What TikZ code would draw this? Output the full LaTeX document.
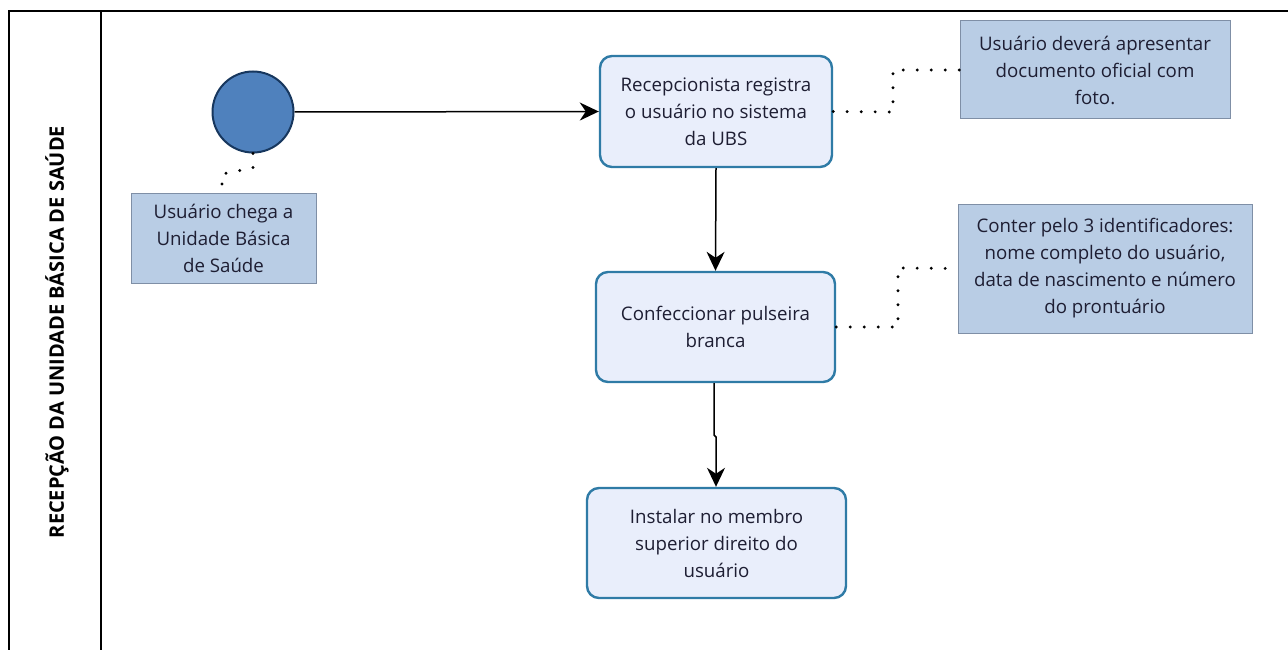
\documentclass[tikz,border=0pt]{standalone}
\usepackage{fontspec}
\setmainfont{Open Sans}
\usetikzlibrary{arrows.meta}
\definecolor{taskfill}{HTML}{E9EEFB}
\definecolor{taskdraw}{HTML}{2F7BA6}
\definecolor{annfill}{HTML}{B9CDE5}
\definecolor{anndraw}{HTML}{7F8FA6}
\definecolor{evfill}{HTML}{4F81BD}
\definecolor{evdraw}{HTML}{17375E}
\definecolor{txt}{HTML}{1E1E33}
\tikzset{
  task/.style={draw=taskdraw, fill=taskfill, line width=2.4pt, rounded corners=12pt,
    text=txt, align=center, font=\fontsize{18.7}{27}\selectfont, inner sep=0pt},
  ann/.style={draw=anndraw, fill=annfill, line width=1pt, text=txt, align=center,
    font=\fontsize{18.7}{27}\selectfont, inner sep=0pt},
  flow/.style={draw=black, line width=1.5pt, -{Stealth[length=19pt,width=18pt,inset=6pt]}},
  assoc/.style={draw=black, line width=3.2pt, dash pattern=on 0pt off 14pt, line cap=round},
  pool/.style={draw=black, line width=1.6pt}
}
\begin{document}
\begin{tikzpicture}[x=1pt,y=-1pt]
\useasboundingbox (0,0) rectangle (1288,650);
% pool
\draw[pool] (9,650) -- (9,11) -- (1288,11);
\draw[pool] (101,11) -- (101,650);
\node[rotate=90, font=\bfseries\fontsize{20}{22}\selectfont, text=black] (lbl) at (57,332) {RECEPÇÃO DA UNIDADE BÁSICA DE SAÚDE};
% start event
\node[circle, draw=evdraw, fill=evfill, line width=2pt, minimum size=81pt, inner sep=0pt] (start) at (253,112) {};
% annotations
\node[ann, minimum width=185pt, minimum height=90pt] (a1) at (223.5,238) {Usuário chega a\\Unidade Básica\\de Saúde};
\node[ann, minimum width=270pt, minimum height=98pt] (a2) at (1095,70) {Usuário deverá apresentar\\documento oficial com\\foto.};
\node[ann, minimum width=294pt, minimum height=129pt] (a3) at (1105,268.5) {Conter pelo 3 identificadores:\\nome completo do usuário,\\data de nascimento e número\\do prontuário};
% tasks
\node[task, minimum width=232pt, minimum height=111pt] (t1) at (716,111.5) {Recepcionista registra\\o usuário no sistema\\da UBS};
\node[task, minimum width=239pt, minimum height=110pt] (t2) at (715.5,327) {Confeccionar pulseira\\branca};
\node[task, minimum width=259pt, minimum height=110pt] (t3) at (716.5,543) {Instalar no membro\\superior direito do\\usuário};
% flows
\draw[flow] (start.east) -- (t1.west);
\draw[flow] (t1.south) -- (t2.north);
\coordinate (j1) at (714,435);
\coordinate (j2) at (716,437);
\draw[flow] (t2.south -| j1) -- (j1) -- (j2) -- (j2 |- t3.north);
% associations
\coordinate (c1) at (253,168);
\coordinate (c2) at (222,174);
\draw[assoc] (start.south) -- (c1) -- (c2) -- (c2 |- a1.north);
\coordinate (d1) at (893,112);
\coordinate (d2) at (893,70);
\draw[assoc] (t1.east) -- (d1) -- (d2) -- (a2.west);
\coordinate (e1) at (898,327);
\coordinate (e2) at (898,268);
\draw[assoc] (t2.east) -- (e1) -- (e2) -- (a3.west);
\end{tikzpicture}
\end{document}
